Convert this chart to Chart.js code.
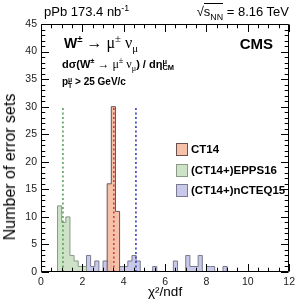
<!DOCTYPE html>
<html><head><meta charset="utf-8">
<script src="https://cdn.jsdelivr.net/npm/chart.js@4/dist/chart.umd.min.js"></script>
<style>
html,body{margin:0;padding:0;background:#fff;}
#wrap{position:relative;width:299px;height:303px;overflow:hidden;}
canvas{position:absolute;left:0;top:0;}
.t{position:absolute;white-space:nowrap;font-family:"Liberation Sans",Arial,sans-serif;color:#000;line-height:1;}
.b{font-weight:bold;}
.s{font-family:"Liberation Serif","Times New Roman",serif;font-weight:normal;}
sup,sub{font-size:68%;line-height:0;}
.stack{display:inline-block;vertical-align:middle;line-height:0.85;font-size:68%;text-align:left;}
.lg{position:absolute;width:10px;height:11px;border:1px solid #777;}
#ytitle{position:absolute;left:10px;top:167px;transform:translate(-50%,-50%) rotate(-90deg);font-size:16px;}
</style></head><body>
<div id="wrap">
<canvas id="c" width="299" height="303"></canvas>
<div class="t" style="left:44px;top:5px;font-size:13px;">pPb 173.4 nb<sup>-1</sup></div>
<div class="t" style="right:10px;top:5px;font-size:13px;">√<span style="border-top:1px solid #000;">s<sub>NN</sub></span> = 8.16 TeV</div>
<div class="t b" style="left:64px;top:35px;font-size:14px;">W<sup>±</sup><span class="s" style="font-size:16px;"> → μ<sup>±</sup> ν<sub>μ</sub></span></div>
<div class="t b" style="right:26px;top:36px;font-size:15px;">CMS</div>
<div class="t b" style="left:62px;top:58px;font-size:11px;">dσ(W<sup>±</sup><span class="s" style="font-size:12px;"> → μ<sup>±</sup> ν<sub>μ</sub></span>) / dη<span class="stack">μ<br>CM</span></div>
<div class="t b" style="left:62px;top:77px;font-size:10px;">p<span class="stack">μ<br>T</span> &gt; 25 GeV/c</div>
<div class="t" id="ytitle">Number of error sets</div>
<div id="legend"></div>
</div>
<script>
// ---- data ----
const binWidth = 0.2;
const seriesNames = ["CT14", "(CT14+)EPPS16", "(CT14+)nCTEQ15"];
const ct14BinStarts = [3.2, 3.4, 3.6];
const ct14Counts    = [16, 30, 11];
const eppsBinStarts = [0.8, 1.0, 1.2, 1.4, 1.6, 1.8, 2.0];
const eppsCounts    = [12, 9, 10, 3, 2, 1, 1];
const ncteqBinStarts = [2.2, 2.4, 2.6, 3.0, 3.2, 3.8, 4.0, 4.2, 4.4, 4.6, 5.4, 6.4, 7.0, 7.2, 7.4, 7.6, 8.0, 8.2, 8.8];
const ncteqCounts    = [3, 1, 2, 2, 2, 1, 1, 2, 3, 2, 1, 2, 3, 1, 1, 3, 1, 1, 1];
const meanChi2 = [3.52, 1.06, 4.59];      // CT14, EPPS16, nCTEQ15
const meanLineTop = 30;
const xTickValues = [0, 2, 4, 6, 8, 10, 12];
const yTickValues = [0, 5, 10, 15, 20, 25, 30, 35, 40, 45];

const fills   = ["rgba(244,186,160,0.9)", "rgba(205,226,198,1)", "rgba(200,200,232,1)"];
const borders = ["#6b5050", "#8a9a88", "#7a7a90"];
const dashCol = ["#d83a3a", "#5aa05a", "#3a3ac0"];

function histPoints(starts, counts) {
  const pts = [];
  for (let i = 0; i < starts.length; i++) {
    if (i === 0 || Math.abs(starts[i] - (starts[i-1] + binWidth)) > 1e-6) pts.push({x: starts[i], y: 0});
    pts.push({x: starts[i], y: counts[i]});
    const end = starts[i] + binWidth;
    if (i === starts.length - 1 || Math.abs(starts[i+1] - end) > 1e-6) pts.push({x: end, y: 0});
  }
  return pts;
}
const hists = [histPoints(ct14BinStarts, ct14Counts), histPoints(eppsBinStarts, eppsCounts), histPoints(ncteqBinStarts, ncteqCounts)];

const datasets = [];
meanChi2.forEach((m, i) => datasets.push({
  type: 'line', data: [{x: m, y: 0}, {x: m, y: meanLineTop}], borderColor: dashCol[i],
  borderWidth: 1.6, borderDash: [2, 2.5], pointRadius: 0, fill: false, order: 0
}));
hists.forEach((h, i) => datasets.push({
  type: 'line', label: seriesNames[i], data: h, stepped: 'before', fill: 'origin',
  backgroundColor: fills[i], borderColor: borders[i], borderWidth: 1, pointRadius: 0,
  order: i + 1
}));

const frameTicks = {
  id: 'frameTicks',
  afterDatasetsDraw(chart) {
    const {ctx, chartArea: a, scales: {x, y}} = chart;
    ctx.save();
    ctx.strokeStyle = '#000';
    ctx.lineWidth = 1;
    ctx.beginPath();
    const L = Math.round(a.left) + 0.5, R = Math.round(a.right) - 0.5, T = Math.round(a.top) + 0.5, B = Math.round(a.bottom) - 0.5;
    ctx.rect(L, T, R - L, B - T);
    for (let v = 0; v <= 12 + 1e-9; v += 0.5) {
      const px = Math.round(x.getPixelForValue(v)) + 0.5;
      const len = (Math.abs(v / 2 - Math.round(v / 2)) < 1e-6) ? 7.5 : 3.8;
      ctx.moveTo(px, B); ctx.lineTo(px, B - len);
      ctx.moveTo(px, T); ctx.lineTo(px, T + len);
    }
    for (let v = 0; v <= 45; v += 1) {
      const py = Math.round(y.getPixelForValue(v)) + 0.5;
      const len = (v % 5 === 0) ? 7.5 : 3.8;
      ctx.moveTo(L, py); ctx.lineTo(L + len, py);
      ctx.moveTo(R, py); ctx.lineTo(R - len, py);
    }
    ctx.stroke();
    ctx.restore();
  }
};

const font = {family: '"Liberation Sans", Arial, sans-serif', size: 10.5};
const chart = new Chart(document.getElementById('c'), {
  type: 'line',
  data: {datasets},
  options: {
    responsive: false, animation: false, events: [],
    layout: {padding: {top: 24, right: 6, left: 0, bottom: 0}},
    plugins: {legend: {display: false}, tooltip: {enabled: false}},
    scales: {
      x: {
        type: 'linear', min: 0, max: 12,
        afterBuildTicks: s => { s.ticks = xTickValues.map(v => ({value: v})); },
        afterFit: s => { s.height = 31; },
        grid: {display: false, drawTicks: false}, border: {display: false},
        ticks: {color: '#222', font, padding: 4, maxRotation: 0},
        title: {display: true, text: 'χ²/ndf', color: '#000', font: {family: font.family, size: 13.5}, padding: {top: 0, bottom: 3}}
      },
      y: {
        type: 'linear', min: 0, max: 45,
        afterBuildTicks: s => { s.ticks = yTickValues.map(v => ({value: v})); },
        afterFit: s => { s.width = 41; },
        grid: {display: false, drawTicks: false}, border: {display: false},
        ticks: {color: '#222', font, padding: 4}
      }
    }
  },
  plugins: [frameTicks]
});

const lg = document.getElementById('legend');
const rowsY = [143, 164, 184];
seriesNames.forEach((n, i) => {
  const box = document.createElement('div');
  box.className = 'lg';
  box.style.left = '176px'; box.style.top = rowsY[i] + 'px'; box.style.background = fills[i]; box.style.borderColor = borders[i];
  lg.appendChild(box);
  const t = document.createElement('div');
  t.className = 't b';
  t.style.left = '191px'; t.style.top = (rowsY[i] + 1) + 'px'; t.style.fontSize = '11.5px';
  t.textContent = n;
  lg.appendChild(t);
});
</script>
</body></html>
